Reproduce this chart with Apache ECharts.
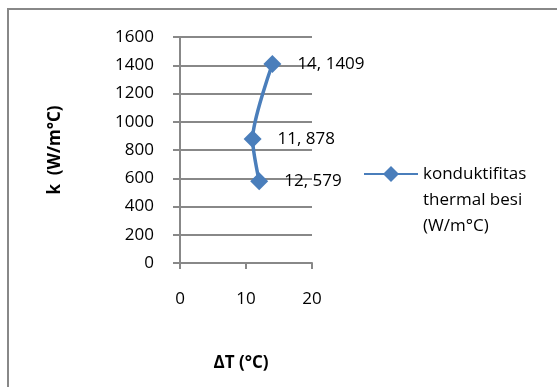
<!DOCTYPE html>
<html>
<head>
<meta charset="utf-8">
<script src="https://cdn.jsdelivr.net/npm/echarts@6/dist/echarts.min.js"></script>
<style>
  html, body { margin: 0; padding: 0; background: #fff; }
  #chart { width: 557px; height: 387px; }
</style>
</head>
<body>
<div id="chart"></div>
<script>
// Temperature difference (°C) and thermal conductivity k (W/m°C) of iron
const deltaT = [12, 11, 14];
const conductivity = [579, 878, 1409];
const seriesName = 'konduktifitas\nthermal besi\n(W/m°C)';
const xTicks = [0, 10, 20];
const yTicks = [0, 200, 400, 600, 800, 1000, 1200, 1400, 1600];

const points = deltaT.map((t, i) => [t, conductivity[i]]);
const FONT = 'Open Sans';
const FS = 17;
const BLUE = '#4A7EBB';
const GREY = '#888888';

const chart = echarts.init(document.getElementById('chart'), null, { renderer: 'canvas' });
chart.setOption({
  animation: false,
  backgroundColor: '#ffffff',
  textStyle: { fontFamily: FONT },
  graphic: [{
    type: 'rect',
    shape: { x: 8, y: 9, width: 620, height: 420 },
    style: { fill: 'none', stroke: GREY, lineWidth: 2 },
    silent: true
  }],
  grid: { left: 180, top: 37, width: 132, height: 226, containLabel: false },
  legend: {
    data: [seriesName],
    left: 363,
    top: 109,
    padding: 0,
    orient: 'vertical',
    itemWidth: 54,
    itemHeight: 20,
    itemGap: 4,
    // two blank lines above keep the icon level with the first text line
    formatter: name => '\n\n' + name,
    textStyle: { fontFamily: FONT, fontSize: FS, color: '#000', lineHeight: 26 }
  },
  xAxis: {
    type: 'value',
    min: xTicks[0],
    max: xTicks[xTicks.length - 1],
    interval: 10,
    name: 'ΔT (°C)',
    nameLocation: 'middle',
    nameGap: 92,
    nameTextStyle: { fontFamily: FONT, fontSize: FS, fontWeight: 'bold', color: '#000', padding: [0, 0, 0, -10] },
    axisLine: { show: true, onZero: false, lineStyle: { color: GREY, width: 2 } },
    axisTick: { show: true, inside: false, length: 6, lineStyle: { color: GREY, width: 2 } },
    axisLabel: { fontFamily: FONT, fontSize: FS, color: '#000', margin: 28 },
    splitLine: { show: false }
  },
  yAxis: {
    type: 'value',
    min: yTicks[0],
    max: yTicks[yTicks.length - 1],
    interval: 200,
    name: 'k  (W/m°C)',
    nameLocation: 'middle',
    nameGap: 116,
    nameRotate: 90,
    nameTextStyle: { fontFamily: FONT, fontSize: FS, fontWeight: 'bold', color: '#000' },
    axisLine: { show: true, lineStyle: { color: GREY, width: 2 } },
    axisTick: { show: true, length: 7, lineStyle: { color: GREY, width: 2 } },
    axisLabel: { fontFamily: FONT, fontSize: FS, color: '#000', margin: 26, formatter: v => String(v) },
    splitLine: { show: true, lineStyle: { color: GREY, width: 2 } }
  },
  series: [{
    name: seriesName,
    type: 'line',
    data: points,
    smooth: 0.25,
    symbol: 'diamond',
    symbolSize: 18,
    lineStyle: { color: BLUE, width: 3.5 },
    itemStyle: { color: BLUE },
    label: {
      show: true,
      position: 'right',
      distance: 16,
      fontFamily: FONT,
      fontSize: FS,
      color: '#000',
      formatter: p => p.value[0] + ', ' + p.value[1]
    }
  }]
});
</script>
</body>
</html>
